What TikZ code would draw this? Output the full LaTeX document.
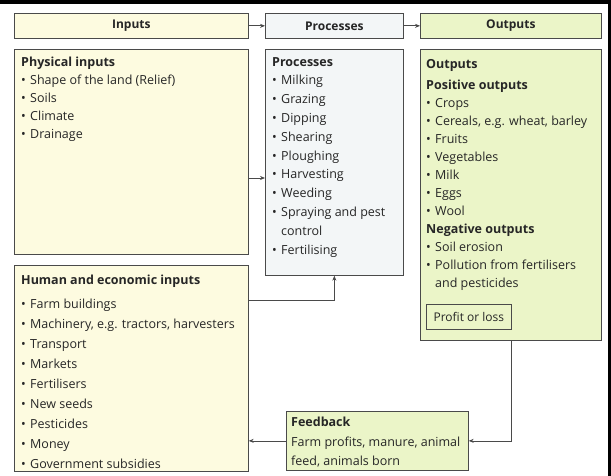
\documentclass[tikz,border=0pt]{standalone}
\usepackage{fontspec}
\setmainfont{Open Sans}
\usetikzlibrary{arrows.meta,calc}
\definecolor{inY}{HTML}{FDFBE0}
\definecolor{prB}{HTML}{F3F6F7}
\definecolor{ouG}{HTML}{EBF5C8}
\definecolor{edgec}{HTML}{4A4A4A}
\definecolor{ink}{HTML}{262626}
\newcommand{\bl}{\makebox[9pt][l]{\textbullet}}
\newcommand{\ind}{\hspace*{9pt}}
\begin{document}
\begin{tikzpicture}[x=1pt,y=-1pt,
  boxn/.style={draw=edgec, line width=0.7pt, inner sep=0pt, anchor=north west, text=ink},
  hdr/.style={boxn, font=\fontsize{12}{14}\selectfont\bfseries, minimum height=25pt},
  txt/.style={anchor=north west, inner sep=0pt, align=left, text=ink},
  arr/.style={draw=edgec, line width=0.7pt, -{Stealth[length=5pt,width=4pt]}}]
\useasboundingbox (0,0) rectangle (611,476);
\fill[black] (0,0) rectangle (611,4);
\fill[black] (608,0) rectangle (611,476);
% headers
\node[hdr, fill=inY, minimum width=234pt] (hin) at (14,13) {Inputs};
\node[hdr, fill=prB, minimum width=138pt] (hproc) at (265,13) {Processes};
\node[hdr, fill=ouG, minimum width=181pt] (hout) at (420,13) {Outputs};
% boxes
\node[boxn, fill=inY, minimum width=234pt, minimum height=205pt] (phys) at (14,49) {};
\node[boxn, fill=prB, minimum width=138pt, minimum height=226pt] (proc) at (265,49) {};
\node[boxn, fill=ouG, minimum width=181pt, minimum height=291pt] (out) at (420,49) {};
\node[boxn, fill=inY, minimum width=234pt, minimum height=206pt] (hum) at (14,265) {};
\node[boxn, fill=ouG, minimum width=182pt, minimum height=59pt] (fb) at (286,411) {};
\node[boxn, fill=ouG, minimum width=85pt, minimum height=25pt, font=\fontsize{12}{14}\selectfont] (pl) at (426,304) {Profit or loss};
% texts
\node[txt, font=\fontsize{12.5}{18}\selectfont] (physT) at (21,57)
 {\textbf{Physical inputs}\\ \bl Shape of the land (Relief)\\ \bl Soils\\ \bl Climate\\ \bl Drainage};
\node[txt, font=\fontsize{12.5}{18.8}\selectfont] (procT) at (272,57)
 {\textbf{Processes}\\ \bl Milking\\ \bl Grazing\\ \bl Dipping\\ \bl Shearing\\ \bl Ploughing\\ \bl Harvesting\\ \bl Weeding\\ \bl Spraying and pest\\ \ind control\\ \bl Fertilising};
\node[txt, font=\fontsize{12.5}{18}\selectfont] (outT) at (426,59)
 {\textbf{Outputs}\\[3pt] \textbf{Positive outputs}\\ \bl Crops\\ \bl Cereals, e.g. wheat, barley\\ \bl Fruits\\ \bl Vegetables\\ \bl Milk\\ \bl Eggs\\ \bl Wool\\ \textbf{Negative outputs}\\ \bl Soil erosion\\ \bl Pollution from fertilisers\\ \ind and pesticides};
\node[txt, font=\fontsize{12.5}{20}\selectfont] (humT) at (21,275)
 {\textbf{Human and economic inputs}\\[4pt] \bl Farm buildings\\ \bl Machinery, e.g. tractors, harvesters\\ \bl Transport\\ \bl Markets\\ \bl Fertilisers\\ \bl New seeds\\ \bl Pesticides\\ \bl Money\\ \bl Government subsidies};
\node[txt, font=\fontsize{12.5}{19.5}\selectfont] (fbT) at (291,417)
 {\textbf{Feedback}\\ Farm profits, manure, animal\\ feed, animals born};
% connectors
\coordinate (pa) at (0,178);
\coordinate (ha) at (0,300);
\draw[arr] (hin.east) -- (hproc.west);
\draw[arr] (hproc.east) -- (hout.west);
\draw[arr] (phys.east |- pa) -- (proc.west |- pa);
\draw[arr] (hum.east |- ha) -| (proc.south);
\draw[arr] (out.south -| pl.east) |- (fb.east);
\draw[arr] (fb.west) -- (fb.west -| hum.east);
\end{tikzpicture}
\end{document}
